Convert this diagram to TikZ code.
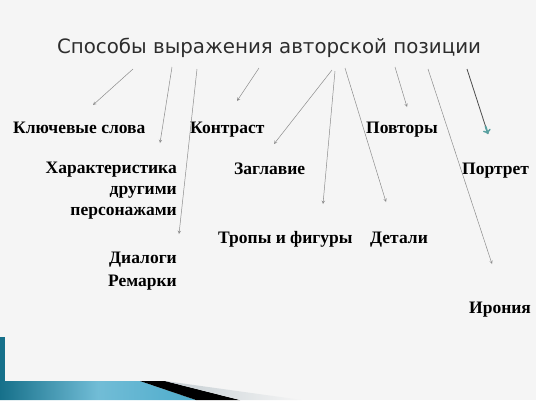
\documentclass[tikz,border=0pt]{standalone}
\usepackage{fontspec}
\setmainfont{Liberation Serif}
\newfontfamily\titlefont{DejaVu Sans}
\usetikzlibrary{arrows,calc}

\definecolor{bgcol}{RGB}{245,245,245}
\definecolor{linecol}{RGB}{140,140,140}
\definecolor{titlecol}{RGB}{45,45,45}
\definecolor{tealdark}{RGB}{22,112,138}
\definecolor{teallight}{RGB}{78,172,204}
\definecolor{tealhead}{RGB}{88,160,160}
\definecolor{wedgegray}{RGB}{196,205,210}

\begin{document}
\begin{tikzpicture}[x=1pt,y=-1pt]
\tikzstyle{every node}+=[inner sep=0pt]
\tikzstyle{item}=[font=\fontsize{17.5}{21}\selectfont\bfseries, text=black, anchor=base west]
\tikzstyle{link}=[linecol, line width=0.5pt, -stealth]
\useasboundingbox (0,0) rectangle (536,400);
\fill [bgcol] (0,0) rectangle (536,400);
% bottom bars
\fill [tealdark] (0,337) rectangle (5,400);
\shade [left color=tealdark, right color=teallight, middle color=teallight!80!white]
  (0,381) -- (140,381) -- (196,400) -- (0,400) -- cycle;
\fill [black] (140,381) -- (165,381) -- (240,400) -- (196,400) -- cycle;
\shade [left color=wedgegray, right color=bgcol] (165,381) -- (302,400) -- (240,400) -- cycle;
% title
\node [font=\titlefont\fontsize{19.8}{24}\selectfont, text=titlecol] (title) at (269,48) {Способы выражения авторской позиции};
% items
\node [item] (words) at (13,133) {Ключевые слова};
\node [item] (contrast) at (190,133) {Контраст};
\node [item] (repeats) at (366,133) {Повторы};
\node [item, anchor=east, align=right] (others) at (177,191) {Характеристика\\другими\\персонажами};
\node [item] (headline) at (234,174) {Заглавие};
\node [item] (portrait) at (462,174) {Портрет};
\node [item] (tropes) at (218,243) {Тропы и фигуры};
\node [item] (details) at (370,243) {Детали};
\node [item, anchor=east, align=right, font=\fontsize{17.5}{23}\selectfont\bfseries] (dialogs) at (177,271) {Диалоги\\Ремарки};
\node [item] (irony) at (469,313) {Ирония};
% arrow ends
\coordinate (words-from) at (133,69);    \coordinate (words-to) at (93,105);
\coordinate (others-from) at (172,67);   \coordinate (others-to) at (160,143);
\coordinate (dialogs-from) at (197,69);  \coordinate (dialogs-to) at (179,234);
\coordinate (contrast-from) at (259,68); \coordinate (contrast-to) at (237,101);
\coordinate (headline-from) at (332,70); \coordinate (headline-to) at (274,144);
\coordinate (tropes-from) at (335,71);   \coordinate (tropes-to) at (323,204);
\coordinate (details-from) at (345,68);  \coordinate (details-to) at (386,202);
\coordinate (repeats-from) at (395,67);  \coordinate (repeats-to) at (407,107);
\coordinate (irony-from) at (428,69);    \coordinate (irony-to) at (492,264);
\coordinate (portrait-from) at (467,69); \coordinate (portrait-to) at (488,134);
\foreach \a in {words,others,dialogs,contrast,headline,tropes,details,repeats,irony}
  \draw [link] (\a-from) -- (\a-to);
\draw [black!70, line width=0.8pt] (portrait-from) -- (portrait-to);
\draw [tealhead, line width=1.8pt, -to] ($(portrait-from)!0.88!(portrait-to)$) -- (portrait-to);
\end{tikzpicture}
\end{document}
